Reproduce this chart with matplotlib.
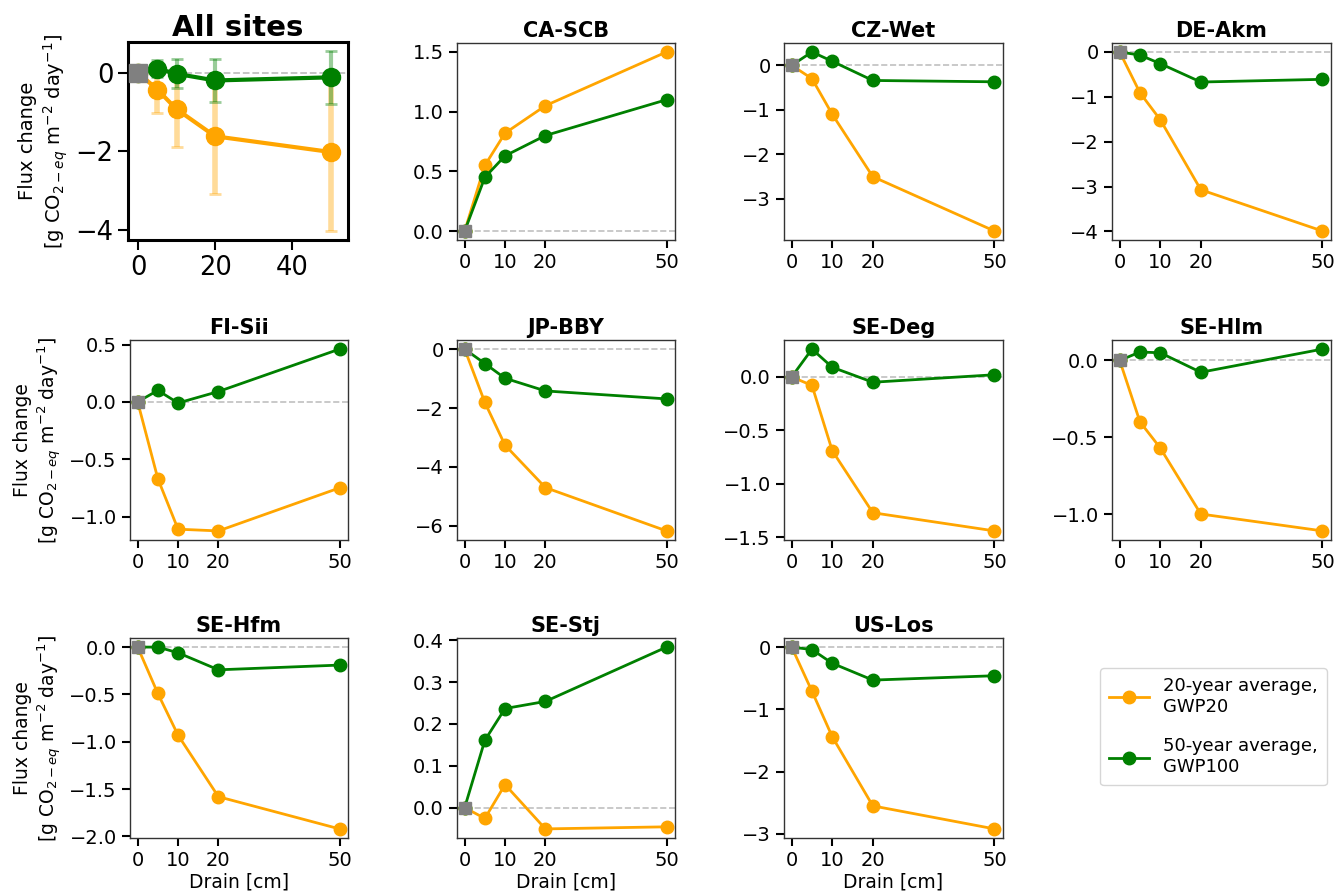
import numpy as np
import matplotlib.pyplot as plt

drain = [0, 5, 10, 20, 50]

sites = ['CA-SCB', 'CZ-Wet', 'DE-Akm', 'FI-Sii', 'JP-BBY',
         'SE-Deg', 'SE-Hlm', 'SE-Hfm', 'SE-Stj', 'US-Los']

# flux change per site, 20-year average (GWP20)
gwp20 = [
    [0, 0.55, 0.82, 1.05, 1.50],
    [0, -0.30, -1.10, -2.50, -3.72],
    [0, -0.91, -1.51, -3.07, -3.99],
    [0, -0.67, -1.11, -1.125, -0.75],
    [0, -1.81, -3.26, -4.70, -6.17],
    [0, -0.08, -0.69, -1.27, -1.44],
    [0, -0.40, -0.57, -1.00, -1.11],
    [0, -0.49, -0.93, -1.58, -1.92],
    [0, -0.026, 0.055, -0.051, -0.046],
    [0, -0.71, -1.44, -2.55, -2.92],
]

# flux change per site, 50-year average (GWP100)
gwp100 = [
    [0, 0.45, 0.63, 0.80, 1.10],
    [0, 0.30, 0.09, -0.34, -0.37],
    [0, -0.07, -0.26, -0.67, -0.61],
    [0, 0.10, -0.01, 0.09, 0.46],
    [0, -0.49, -0.99, -1.42, -1.69],
    [0, 0.26, 0.09, -0.05, 0.02],
    [0, 0.055, 0.05, -0.077, 0.074],
    [0, 0.0, -0.06, -0.24, -0.19],
    [0, 0.161, 0.237, 0.254, 0.384],
    [0, -0.04, -0.26, -0.53, -0.46],
]

# all sites: mean and spread
all20_mean = [0, -0.43, -0.93, -1.62, -2.02]
all20_err = [0, 0.60, 0.97, 1.48, 2.01]
all100_mean = [0, 0.10, -0.03, -0.20, -0.12]
all100_err = [0, 0.21, 0.37, 0.54, 0.67]

ylab = 'Flux change\n[g CO$_{2-eq}$ m$^{-2}$ day$^{-1}$]'
c20 = 'orange'
c100 = 'green'

W, H = 1335, 896
fig = plt.figure(figsize=(W / 100, H / 100), dpi=100)

def add_ax(x0, x1, y0, y1):
    return fig.add_axes([x0 / W, 1 - y1 / H, (x1 - x0) / W, (y1 - y0) / H])

col_x = [(130, 348), (457, 675), (784, 1003), (1112, 1331)]
row_y = [(43, 240), (340, 540), (638, 838)]

# ---- All sites panel
ax = add_ax(128, 348, 42, 240)
ax.axhline(0, color='silver', ls='--', lw=1.3, zorder=0)
ax.errorbar(drain[1:], all20_mean[1:], yerr=all20_err[1:], fmt='none',
            ecolor=c20, alpha=0.4, elinewidth=4, capsize=4, capthick=2)
ax.errorbar(drain[1:], all100_mean[1:], yerr=all100_err[1:], fmt='none',
            ecolor=c100, alpha=0.4, elinewidth=3, capsize=4, capthick=2)
ax.plot(drain, all20_mean, '-o', color=c20, lw=3, ms=13)
ax.plot(drain, all100_mean, '-o', color=c100, lw=3, ms=13)
ax.plot([0], [0], 's', color='grey', ms=13, zorder=5)
ax.set_xlim(-2.6, 54.5)
ax.set_xticks([0, 20, 40])
ax.tick_params(labelsize=18.5, length=7, width=1.5)
for s in ax.spines.values():
    s.set_linewidth(2.2)
ax.set_title('All sites', fontsize=21, fontweight='bold', pad=2)
ax.set_ylabel(ylab, fontsize=14)

# ---- individual sites
slots = [(0, 1), (0, 2), (0, 3),
         (1, 0), (1, 1), (1, 2), (1, 3),
         (2, 0), (2, 1), (2, 2)]
for i, site in enumerate(sites):
    r, c = slots[i]
    x0, x1 = col_x[c]
    y0, y1 = row_y[r]
    ax = add_ax(x0, x1, y0, y1)
    ax.axhline(0, color='silver', ls='--', lw=1.2, zorder=0)
    ax.plot(drain, gwp20[i], '-o', color=c20, lw=2, ms=9,
            label='20-year average,\nGWP20')
    ax.plot(drain, gwp100[i], '-o', color=c100, lw=2, ms=9,
            label='50-year average,\nGWP100')
    ax.plot([0], [0], 's', color='grey', ms=9, zorder=5)
    ax.set_xlim(-1.9, 52.1)
    ax.set_xticks([0, 10, 20, 50])
    ax.tick_params(labelsize=14, length=6, width=1.5)
    for s in ax.spines.values():
        s.set_color('#333333')
        s.set_linewidth(1)
    ax.set_title(site, fontsize=15, fontweight='bold', pad=4)
    if c == 0:
        ax.set_ylabel(ylab, fontsize=13.5)
    if r == 2:
        ax.set_xlabel('Drain [cm]', fontsize=13.5, labelpad=2)
    if i == 0:
        handles, labels = ax.get_legend_handles_labels()

fig.legend(handles, labels, loc='upper left',
           bbox_to_anchor=(1100 / W, 1 - 668 / H), borderaxespad=0,
           fontsize=13, labelspacing=1.2, handlelength=2.2,
           handletextpad=0.8, borderpad=0.5)

fig.savefig('out.png', dpi=100)
